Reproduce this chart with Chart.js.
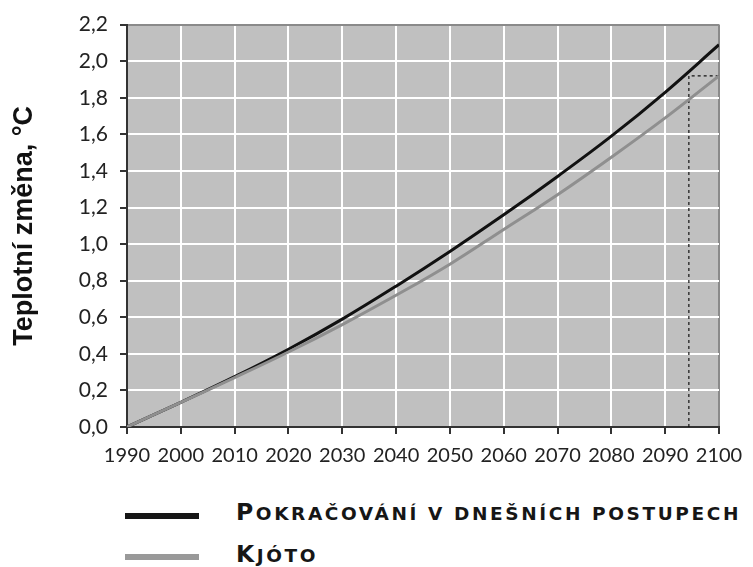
<!DOCTYPE html>
<html>
<head>
<meta charset="utf-8">
<script src="https://cdn.jsdelivr.net/npm/chart.js@4.4.1/dist/chart.umd.min.js"></script>
<style>
  body { margin: 0; background: #fff; }
  #wrap { position: relative; width: 753px; height: 567px; }
  #box { position: absolute; left: 0; top: 0; width: 753px; height: 480px; }
  .mark { position: absolute; left: 125px; width: 74px; height: 6px; }
  .leg { position: absolute; left: 236px; line-height: 24px; white-space: nowrap;
         font-family: "DejaVu Sans", sans-serif; font-weight: bold;
         font-size: 23.5px; letter-spacing: 2.6px; color: #161616; }
  .leg .sc { text-transform: uppercase; font-size: 18.5px; }
</style>
</head>
<body>
<div id="wrap">
  <div id="box"><canvas id="chart"></canvas></div>
  <span class="mark" style="top:513px;background:#161616"></span>
  <span class="mark" style="top:554px;background:#999"></span>
  <div class="leg" style="top:500px">P<span class="sc">okračování v dnešních postupech</span></div>
  <div class="leg" style="top:542px">K<span class="sc">jóto</span></div>
</div>
<script>
const years = [1990, 2000, 2010, 2020, 2030, 2040, 2050, 2060, 2070, 2080, 2090, 2100];
const businessAsUsual = [0, 0.135, 0.275, 0.425, 0.59, 0.77, 0.96, 1.16, 1.37, 1.59, 1.83, 2.09];
const kyoto = [0, 0.135, 0.27, 0.41, 0.56, 0.72, 0.89, 1.08, 1.27, 1.475, 1.69, 1.92];
// dotted guide: the year when the black line reaches the Kyoto end value
const guideX = [2094.4, 2094.4, 2100];
const guideY = [0, 1.92, 1.92];

const FONT = 'Lato, sans-serif';

const plotBg = {
  id: 'plotBg',
  beforeDraw(chart) {
    const { ctx, chartArea: a } = chart;
    ctx.save();
    ctx.fillStyle = '#c0c0c0';
    ctx.fillRect(a.left, a.top, a.right - a.left, a.bottom - a.top);
    ctx.restore();
  }
};

const pts = (xs, ys) => xs.map((x, i) => ({ x: x, y: ys[i] }));

new Chart(document.getElementById('chart'), {
  type: 'line',
  data: {
    datasets: [
      {
        data: pts(years, kyoto),
        borderColor: '#8f8f8f',
        borderWidth: 3,
        pointRadius: 0,
        tension: 0.4,
      },
      {
        data: pts(years, businessAsUsual),
        borderColor: '#111',
        borderWidth: 3,
        pointRadius: 0,
        tension: 0.4,
      },
      {
        data: pts(guideX, guideY),
        borderColor: '#111',
        borderWidth: 1.2,
        borderDash: [3, 3],
        pointRadius: 0,
        tension: 0,
      },
    ],
  },
  options: {
    responsive: true,
    maintainAspectRatio: false,
    animation: false,
    layout: { padding: { top: 20, right: 34, left: 0, bottom: 0 } },
    plugins: { legend: { display: false }, tooltip: { enabled: false } },
    scales: {
      x: {
        type: 'linear',
        min: 1990,
        max: 2100,
        afterFit: (s) => { s.height = 53; },
        ticks: {
          stepSize: 10,
          color: '#222',
          padding: 10,
          font: { family: FONT, size: 20 },
          callback: (v) => String(v),
        },
        grid: {
          color: (c) => (c.tick && c.tick.value === 2100 ? '#8a8a8a' : '#fff'),
          lineWidth: 2,
          tickColor: '#333',
          tickLength: 7,
        },
        border: { color: '#333', width: 2 },
      },
      y: {
        min: 0,
        max: 2.2,
        afterFit: (s) => { s.width = 127; },
        ticks: {
          stepSize: 0.2,
          color: '#222',
          padding: 12,
          font: { family: FONT, size: 21 },
          callback: (v) => Number(v).toFixed(1).replace('.', ','),
        },
        grid: {
          color: (c) => (c.tick && Math.abs(c.tick.value - 2.2) < 1e-6 ? '#8a8a8a' : '#fff'),
          lineWidth: 2,
          tickColor: '#333',
          tickLength: 7,
        },
        border: { color: '#333', width: 2 },
        title: {
          display: true,
          text: 'Teplotní změna, °C',
          color: '#111',
          padding: { top: 8, bottom: 0 },
          font: { family: '"Liberation Sans", Arial, sans-serif', size: 27, weight: 'bold' },
        },
      },
    },
  },
  plugins: [plotBg],
});
</script>
</body>
</html>
